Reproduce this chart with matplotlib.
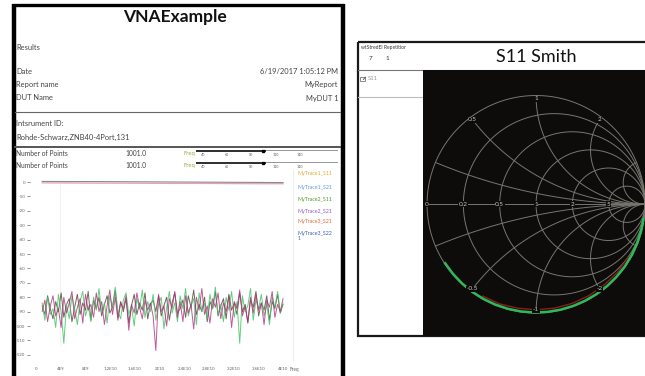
import matplotlib

matplotlib.use("Agg")
import matplotlib.pyplot as plt
import numpy as np
from matplotlib.patches import Rectangle

plt.rcParams["font.family"] = ["Lato", "DejaVu Sans"]

W, H = 645, 376

# report header
TITLE = "VNAExample"
INFO_LABELS = ["Date", "Report name", "DUT Name"]
INFO_VALUES = ["6/19/2017 1:05:12 PM", "MyReport", "MyDUT 1"]
INSTRUMENT = "Rohde-Schwarz,ZNB40-4Port,131"
POINTS = ["1001.0", "1001.0"]

# trace chart
Y_TICKS = [0, -10, -20, -30, -40, -50, -60, -70, -80, -90, -100, -110, -120]
X_TICKS = [0, 4e9, 8e9, 12e9, 16e9, 20e9, 24e9, 28e9, 32e9, 36e9, 40e9]
X_TICK_LABELS = ["0", "4E9", "8E9", "1.2E10", "1.6E10", "2E10", "2.4E10",
                 "2.8E10", "3.2E10", "3.6E10", "4E10"]
LEGEND_NAMES = ["MyTrace1_S11", "MyTrace1_S21", "MyTrace2_S11",
                "MyTrace2_S21", "MyTrace3_S21", "MyTrace3_S22"]
LEGEND_COLORS = ["#e3a92c", "#5b9be0", "#4f9a2c", "#8a5cc4", "#e0663a", "#3a5cc0"]

refl_gray = [0.4, 0.3, 0.3, 0.2, 0.1, 0.0, -0.1, -0.2, -0.3, -0.4]
refl_pink = [-0.6, -0.7, -0.8, -0.8, -0.9, -1.0, -1.0, -1.1, -1.2, -1.2]

trace_green = [-84, -96, -80, -92, -88, -101, -78, -90, -112, -85, -95, -79, -88, -99, -83,
               -76, -93, -86, -97, -80, -89, -74, -91, -84, -98, -79, -87, -73, -90, -95,
               -82, -77, -92, -86, -100, -81, -88, -75, -94, -83, -90, -78, -96, -85, -80,
               -102, -87, -76, -91, -84, -97, -79, -88, -74, -93, -86, -81, -99, -77, -90,
               -84, -95, -78, -88, -73, -92, -85, -97, -80, -89, -76, -94, -83, -112, -79,
               -90, -86, -74, -96, -82, -88, -78, -93, -85, -99, -80, -87, -76, -91, -84]
trace_magenta = [-90, -82, -97, -86, -79, -93, -88, -101, -80, -91, -84, -76, -95, -87, -81,
                 -98, -78, -89, -85, -94, -77, -90, -83, -99, -86, -75, -92, -80, -96, -84,
                 -88, -79, -103, -85, -91, -77, -87, -95, -82, -89, -84, -93, -117, -78, -90,
                 -86, -100, -81, -88, -76, -94, -83, -97, -79, -91, -85, -102, -80, -89, -74,
                 -92, -86, -98, -81, -87, -77, -95, -84, -90, -79, -101, -83, -88, -75, -93,
                 -86, -97, -80, -91, -78, -89, -84, -99, -82, -87, -76, -94, -85, -90, -81]
trace_dark = [-86, -92, -79, -88, -95, -83, -90, -77, -94, -85, -81, -97, -87, -78, -92,
              -84, -89, -76, -96, -82, -88, -80, -93, -85, -79, -91, -87, -75, -94, -83,
              -90, -81, -98, -86, -78, -92, -84, -89, -77, -95, -85, -82, -90, -79, -93,
              -86, -80, -96, -84, -77, -91, -88, -82, -94, -79, -87, -75, -92, -85, -90,
              -80, -97, -83, -88, -76, -93, -86, -81, -95, -78, -89, -84, -92, -77, -90,
              -85, -98, -82, -87, -76, -93, -84, -89, -79, -96, -83, -88, -78, -91, -85]
F_START, F_STOP = 1e9, 40e9

# smith chart
R_CIRCLES = [0.2, 0.5, 1, 2, 5]
X_ARCS = [0.2, 0.5, 1, 2, 5]
R_LABELS = ["0", "0.2", "0.5", "1", "2", "5"]
X_LABELS = [0.5, 1, 2, -0.5, -1, -2]
s11_phase_deg = [-147, -140, -133, -126, -119, -112, -105, -98, -91, -84, -77,
                 -70, -63, -56, -49, -42, -35, -28, -21, -14, -8]
s11_mag = [0.995, 0.995, 0.995, 0.995, 0.995, 0.995, 0.995, 0.995, 0.995, 0.995, 0.995,
           0.995, 0.995, 0.995, 0.995, 0.995, 0.995, 0.995, 0.995, 0.995, 0.995]
s11b_phase_deg = [-120, -110, -100, -90, -80, -70, -60, -50, -40, -30]
s11b_mag = [0.975, 0.975, 0.97, 0.97, 0.97, 0.97, 0.97, 0.97, 0.975, 0.975]


def px_axes(fig, x0, y0, x1, y1):
    return fig.add_axes([x0 / W, 1 - y1 / H, (x1 - x0) / W, (y1 - y0) / H])


def main():
    fig = plt.figure(figsize=(W / 100, H / 100), dpi=100)
    fig.patch.set_facecolor("white")

    bg = fig.add_axes([0, 0, 1, 1])
    bg.set_xlim(0, W)
    bg.set_ylim(H, 0)
    bg.axis("off")

    # left report panel
    bg.plot([13.5, 13.5], [4, H], color="black", lw=3.2, solid_capstyle="butt")
    bg.plot([342.5, 342.5], [4, H], color="black", lw=3.2, solid_capstyle="butt")
    bg.plot([12, 344], [5, 5], color="black", lw=2.4, solid_capstyle="butt")
    bg.text(175, 17, TITLE, ha="center", va="center", fontsize=12.5, fontweight="bold", color="#111")
    txt = dict(fontsize=5.4, color="#444", va="center")
    bg.text(16, 47, "Results", **txt)
    for i, (lab, val) in enumerate(zip(INFO_LABELS, INFO_VALUES)):
        y = 72 + i * 13
        bg.text(16, y, lab, ha="left", **txt)
        bg.text(338, y, val, ha="right", **txt)
    bg.plot([15, 340], [112, 112], color="#666", lw=0.8)
    bg.text(16, 124, "Intsrument ID:", **txt)
    bg.text(16, 137, INSTRUMENT, **txt)
    bg.plot([15, 340], [147, 147], color="#555", lw=1.4)
    for i, pts in enumerate(POINTS):
        y = 153 + i * 12
        bg.text(16, y, "Number of Points", fontsize=4.8, color="#444", va="center")
        bg.text(125, y, pts, fontsize=4.8, color="#444", va="center")
        bg.text(184, y, "Freq", fontsize=4.2, color="#9aa83a", va="center")
        bg.add_patch(Rectangle((196, y - 3), 70, 2.4, color="#333", lw=0))
        bg.add_patch(Rectangle((266, y - 3), 72, 1.4, color="#999", lw=0))
        bg.plot([263], [y - 2], "s", color="black", ms=1.6)
        for k, lab in enumerate(["40", "60", "90", "110", "140"]):
            bg.text(201 + k * 24, y + 1.5, lab, fontsize=2.6, color="#555", va="center")
    bg.plot([293, 293], [170, 360], color="#eeeeee", lw=0.8)
    bg.plot([60, 60], [184, 345], color="#f2f2f2", lw=0.8)

    for i, (name, col) in enumerate(zip(LEGEND_NAMES, LEGEND_COLORS)):
        y = [174, 187, 199, 211, 221, 233][i]
        bg.text(298, y, name, fontsize=3.8, color=col, va="center")
    bg.text(298, 239, "1", fontsize=3.5, color="#3a5cc0", va="center")
    bg.text(290, 369, "Freq", fontsize=3.4, color="#666", va="center")

    # right smith panel
    bg.add_patch(Rectangle((358, 42), 300, 294, fill=False, ec="#1a1a1a", lw=1.6))
    bg.plot([358, 645], [69.5, 69.5], color="#777", lw=0.8)
    bg.plot([358, 423], [97, 97], color="#bbb", lw=0.8)
    bg.text(361, 47, "wtStredEl Repetitior", fontsize=3.6, color="#333", va="center")
    bg.text(369, 58, "7", fontsize=4.6, color="#333", va="center")
    bg.text(386, 58, "1", fontsize=4.6, color="#333", va="center")
    bg.text(536, 57, "S11 Smith", ha="center", va="center", fontsize=13, color="#111")
    bg.add_patch(Rectangle((360, 76.5), 4.5, 4.5, fill=False, ec="#777", lw=0.6))
    bg.text(361, 79, "\u2713", fontsize=4.5, color="#333", va="center")
    bg.text(368, 79, "S11", fontsize=4.2, color="#999", va="center")

    # trace chart
    ax = px_axes(fig, 30, 172, 292, 360)
    ax.set_facecolor("none")
    ax.set_xlim(-6 / 6.175 * 1e9, 40e9 + 9 / 6.175 * 1e9)
    ax.set_ylim((182 - 360) / 1.44, (182 - 172) / 1.44)
    for sp in ax.spines.values():
        sp.set_visible(False)
    ax.set_yticks(Y_TICKS)
    ax.set_yticklabels([str(v) for v in Y_TICKS])
    ax.set_xticks(X_TICKS)
    ax.set_xticklabels(X_TICK_LABELS)
    ax.tick_params(axis="both", labelsize=3.2, colors="#666", length=2, width=0.5, pad=1.5)
    ax.tick_params(axis="x", length=0, pad=5)

    f = np.linspace(F_START, F_STOP, len(refl_gray))
    ax.plot(f, refl_pink, color="#e7a0b6", lw=0.9)
    ax.plot(f, refl_gray, color="#8a8a8a", lw=0.8)
    for data, col, a in [(trace_dark, "#5a4a3e", 0.85), (trace_green, "#49c46a", 0.85),
                         (trace_magenta, "#b0307a", 0.8)]:
        ff = np.linspace(F_START, F_STOP, len(data))
        ax.plot(ff, data, color=col, lw=0.7, alpha=a)

    # smith chart
    sm = px_axes(fig, 423, 69.5, 645, 336)
    sm.set_facecolor("#0d0c0a")
    sm.set_xlim(-1.037, 1.0)
    sm.set_ylim(-1.211, 1.239)
    sm.set_xticks([])
    sm.set_yticks([])
    for sp in sm.spines.values():
        sp.set_visible(False)

    grid = dict(color="#77766f", lw=0.7)
    th = np.linspace(0, 2 * np.pi, 500)
    sm.plot(np.cos(th), np.sin(th), **grid)
    for r in R_CIRCLES:
        c, rad = r / (1 + r), 1 / (1 + r)
        sm.plot(c + rad * np.cos(th), rad * np.sin(th), **grid)
    t = np.concatenate([np.linspace(0, 10, 400), np.geomspace(10, 1e4, 200)])
    for xv in X_ARCS:
        for s in (1, -1):
            z = t + 1j * s * xv
            g = (z - 1) / (z + 1)
            sm.plot(g.real, g.imag, **grid)
    sm.plot([-1, 1], [0, 0], **grid)

    lab = dict(fontsize=4.6, color="#c8c8c8", ha="center", va="center",
               bbox=dict(fc="#0d0c0a", ec="none", pad=0.4))
    for s in R_LABELS:
        r = float(s)
        sm.text((r - 1) / (r + 1), 0, s, **lab)
    for xv in X_LABELS:
        z = 1j * xv
        g = (z - 1) / (z + 1) * 0.97
        sm.text(g.real, g.imag, f"{xv:g}", **lab)

    ph = np.radians(s11b_phase_deg)
    sm.plot(np.array(s11b_mag) * np.cos(ph), np.array(s11b_mag) * np.sin(ph),
            color="#8a1e1e", lw=1.0)
    ph = np.radians(s11_phase_deg)
    sm.plot(np.array(s11_mag) * np.cos(ph), np.array(s11_mag) * np.sin(ph),
            color="#2fb85a", lw=1.8)

    fig.savefig("out.png", dpi=100)
    plt.close(fig)


if __name__ == "__main__":
    main()
